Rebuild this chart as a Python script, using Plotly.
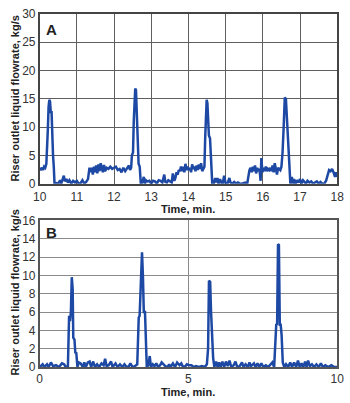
import plotly.graph_objects as go

# Panel A: time (min) and riser outlet liquid flowrate (kg/s)
time_a = [10.00, 10.03, 10.06, 10.09, 10.12, 10.15, 10.18, 10.20, 10.22, 10.24, 10.26, 10.28, 10.30, 10.32,
          10.34, 10.36, 10.38, 10.40, 10.45, 10.50, 10.55, 10.58, 10.62, 10.65, 10.68, 10.72, 10.76, 10.80,
          10.85, 10.90, 10.95, 11.00, 11.05, 11.10, 11.15, 11.20, 11.25, 11.30, 11.34, 11.37, 11.40, 11.43,
          11.46, 11.49, 11.52, 11.55, 11.58, 11.61, 11.64, 11.67, 11.70, 11.73, 11.76, 11.80, 11.85, 11.90,
          11.95, 12.00, 12.05, 12.10, 12.15, 12.20, 12.25, 12.30, 12.35, 12.40, 12.43, 12.46, 12.48, 12.51,
          12.53, 12.55, 12.57, 12.59, 12.61, 12.63, 12.66, 12.69, 12.72, 12.76, 12.80, 12.83, 12.86, 12.90,
          12.95, 13.00, 13.05, 13.10, 13.15, 13.20, 13.25, 13.30, 13.35, 13.38, 13.42, 13.46, 13.50, 13.55,
          13.58, 13.62, 13.65, 13.68, 13.71, 13.74, 13.77, 13.80, 13.83, 13.86, 13.89, 13.92, 13.95, 13.98,
          14.01, 14.04, 14.07, 14.10, 14.13, 14.16, 14.19, 14.22, 14.25, 14.28, 14.31, 14.34, 14.37, 14.40,
          14.43, 14.45, 14.47, 14.49, 14.51, 14.53, 14.55, 14.58, 14.61, 14.64, 14.68, 14.72, 14.75, 14.78,
          14.81, 14.85, 14.88, 14.92, 14.96, 15.00, 15.05, 15.10, 15.13, 15.18, 15.23, 15.28, 15.33, 15.38,
          15.43, 15.48, 15.53, 15.58, 15.61, 15.64, 15.67, 15.70, 15.73, 15.76, 15.79, 15.82, 15.85, 15.88,
          15.91, 15.94, 15.96, 15.99, 16.02, 16.05, 16.08, 16.11, 16.14, 16.17, 16.20, 16.23, 16.26, 16.29,
          16.32, 16.35, 16.38, 16.41, 16.44, 16.47, 16.50, 16.53, 16.56, 16.59, 16.62, 16.65, 16.68, 16.71,
          16.74, 16.78, 16.81, 16.84, 16.88, 16.92, 16.96, 17.00, 17.04, 17.08, 17.12, 17.16, 17.20, 17.25,
          17.30, 17.35, 17.40, 17.45, 17.50, 17.55, 17.60, 17.65, 17.70, 17.74, 17.78, 17.82, 17.86, 17.90,
          17.94, 17.97, 18.00]
flow_a = [2.6, 2.5, 2.8, 2.4, 3.0, 2.8, 3.5, 9.0, 9.5, 13.5, 14.8, 14.5, 12.5, 12.8,
          5.5, 5.0, 3.0, 0.0, 0.1, 0.0, 0.6, 0.0, 0.8, 1.4, 0.4, 0.8, 0.2, 0.6,
          0.0, 0.5, 0.2, 0.5, 0.0, 0.1, 0.6, 0.0, 0.3, 0.8, 2.8, 2.0, 2.8, 1.6,
          3.0, 2.0, 3.2, 1.8, 3.4, 2.2, 3.6, 2.4, 2.0, 3.3, 2.2, 2.8, 2.6, 3.0,
          2.6, 2.8, 3.0, 2.4, 2.6, 2.0, 2.8, 2.2, 2.6, 3.2, 2.4, 2.8, 5.0, 5.5,
          11.0, 13.5, 16.8, 16.5, 13.0, 10.0, 3.5, 3.0, 0.0, 0.2, 1.2, 0.0, 0.6, 0.4,
          0.5, 0.0, 0.5, 0.4, 0.0, 0.6, 0.5, 0.2, 1.6, 0.3, 0.2, 0.6, 0.4, 0.2,
          1.8, 0.5, 1.0, 2.0, 1.6, 2.4, 2.2, 3.0, 2.2, 3.0, 2.0, 3.5, 2.4, 3.0,
          2.4, 2.8, 2.0, 3.4, 2.6, 3.0, 2.2, 3.2, 2.4, 3.4, 2.6, 3.6, 2.2, 2.8,
          3.0, 8.0, 12.0, 14.8, 14.2, 10.5, 8.5, 8.0, 3.0, 0.0, 0.0, 1.0, 0.2, 1.0,
          0.0, 0.8, 0.2, 0.0, 1.4, 0.0, 0.0, 1.0, 0.2, 0.0, 0.3, 0.0, 0.2, 0.0,
          0.0, 0.1, 0.2, 0.0, 1.5, 2.4, 2.8, 2.0, 3.0, 2.2, 3.2, 1.8, 2.8, 2.2,
          2.6, 0.5, 4.5, 2.0, 2.8, 2.2, 3.0, 2.2, 2.6, 2.4, 2.8, 2.2, 3.2, 2.0,
          3.6, 2.4, 1.6, 2.8, 2.6, 2.4, 3.0, 5.5, 10.0, 15.2, 15.0, 10.5, 6.0, 3.0,
          0.0, 1.2, 0.0, 0.8, 0.0, 0.6, 0.2, 0.8, 0.0, 0.6, 0.3, 0.0, 0.5, 0.2,
          0.4, 0.0, 0.2, 0.4, 0.0, 0.3, 0.0, 0.0, 0.5, 1.6, 2.4, 2.2, 2.6, 2.0,
          1.2, 2.0, 1.2]

# Panel B
time_b = [0.00, 0.10, 0.15, 0.25, 0.30, 0.38, 0.45, 0.55, 0.65, 0.75, 0.82, 0.88, 0.95, 0.99,
          1.02, 1.05, 1.08, 1.11, 1.13, 1.17, 1.20, 1.23, 1.27, 1.32, 1.38, 1.45, 1.50, 1.55,
          1.62, 1.68, 1.73, 1.80, 1.86, 1.93, 2.00, 2.08, 2.15, 2.20, 2.25, 2.32, 2.40, 2.45,
          2.55, 2.62, 2.70, 2.78, 2.85, 2.92, 3.00, 3.05, 3.12, 3.20, 3.28, 3.33, 3.36, 3.40,
          3.44, 3.47, 3.50, 3.54, 3.57, 3.60, 3.65, 3.70, 3.74, 3.80, 3.86, 3.92, 3.98, 4.05,
          4.10, 4.15, 4.22, 4.30, 4.35, 4.40, 4.48, 4.55, 4.62, 4.70, 4.76, 4.82, 4.90, 4.95,
          5.02, 5.10, 5.18, 5.25, 5.35, 5.45, 5.55, 5.62, 5.66, 5.69, 5.73, 5.76, 5.79, 5.83,
          5.87, 5.93, 5.98, 6.03, 6.08, 6.14, 6.20, 6.26, 6.32, 6.38, 6.44, 6.52, 6.58, 6.64,
          6.72, 6.80, 6.85, 6.92, 7.00, 7.05, 7.10, 7.20, 7.25, 7.32, 7.38, 7.45, 7.52, 7.60,
          7.68, 7.75, 7.82, 7.88, 7.92, 7.95, 7.98, 8.01, 8.04, 8.07, 8.10, 8.13, 8.17, 8.22,
          8.28, 8.35, 8.42, 8.48, 8.55, 8.62, 8.68, 8.74, 8.80, 8.86, 8.92, 8.97, 9.02, 9.08,
          9.15, 9.22, 9.30, 9.38, 9.45, 9.52, 9.60, 9.70, 9.80, 9.90, 10.00]
flow_b = [0.0, 0.3, 0.0, 0.3, 0.0, 0.5, 0.1, 0.2, 0.0, 0.4, 0.3, 0.0, 0.1, 5.6,
          5.0, 6.0, 9.8, 8.5, 3.2, 3.0, 1.5, 1.6, 0.0, 0.5, 0.4, 0.0, 0.5, 0.0,
          0.5, 0.6, 0.0, 0.6, 0.0, 0.3, 0.0, 0.4, 0.2, 0.9, 0.1, 0.2, 0.6, 0.0,
          0.4, 0.0, 0.3, 0.0, 0.3, 0.0, 0.1, 0.4, 0.0, 0.1, 0.3, 5.4, 5.6, 10.0,
          12.5, 10.0, 6.0, 6.0, 2.0, 0.0, 0.2, 1.2, 0.0, 0.3, 0.1, 0.4, 0.0, 0.2,
          0.5, 0.3, 0.1, 0.0, 0.3, 0.0, 0.4, 0.0, 0.5, 0.2, 0.4, 0.0, 0.1, 0.3,
          0.2, 0.2, 0.0, 0.1, 0.0, 0.1, 0.0, 0.3, 2.0, 9.4, 9.3, 6.0, 3.5, 1.0,
          0.0, 0.6, 0.0, 0.5, 0.0, 0.6, 0.0, 0.6, 0.1, 0.7, 0.0, 0.2, 0.6, 0.0,
          0.1, 0.5, 0.0, 0.3, 0.0, 0.5, 0.1, 0.4, 0.0, 0.4, 0.0, 0.4, 0.0, 0.2,
          0.0, 0.3, 0.5, 0.0, 2.0, 4.6, 4.7, 13.4, 13.3, 4.6, 4.6, 3.5, 0.5, 0.0,
          0.3, 0.0, 0.5, 0.0, 0.5, 0.0, 0.7, 0.0, 0.4, 0.0, 0.6, 0.0, 0.7, 0.1,
          0.3, 0.0, 0.3, 0.0, 0.4, 0.0, 0.2, 0.0, 0.2, 0.0, 0.0]

ticks_a_x = [10, 11, 12, 13, 14, 15, 16, 17, 18]
ticks_a_y = [0, 5, 10, 15, 20, 25, 30]
ticks_b_x = [0, 5, 10]
ticks_b_y = [0, 2, 4, 6, 8, 10, 12, 14, 16]

W, H = 350, 403
LINE = "#1d48a4"
FONT = "Liberation Sans, Arial, sans-serif"

def px(x):
    return x / W

def py(y):
    return 1 - y / H

fig = go.Figure()
fig.add_trace(go.Scatter(x=time_a, y=flow_a, mode="lines", xaxis="x", yaxis="y",
                         line=dict(color=LINE, width=2.5), showlegend=False))
fig.add_trace(go.Scatter(x=time_b, y=flow_b, mode="lines", xaxis="x2", yaxis="y2",
                         line=dict(color=LINE, width=2.5), showlegend=False))

dom_x = [px(34), px(344)]
axis_common = dict(showline=True, mirror=True, ticks="", zeroline=False,
                   ticklabeloverflow="allow",
                   tickfont=dict(family=FONT, size=12, color="#333333"), fixedrange=True)

fig.update_layout(
    width=W, height=H, margin=dict(l=0, r=0, t=0, b=0),
    paper_bgcolor="white", plot_bgcolor="white",
    xaxis=dict(domain=dom_x, anchor="y", range=[10, 18], tickvals=ticks_a_x,
               showgrid=True, gridcolor="#5e5e5e", gridwidth=1, linecolor="#444444", linewidth=1.5,
               ticklabelstandoff=1, **axis_common),
    yaxis=dict(domain=[py(183), py(7)], anchor="x", range=[0, 30], tickvals=ticks_a_y,
               showgrid=True, gridcolor="#5e5e5e", gridwidth=1, linecolor="#444444", linewidth=1.5,
               **axis_common),
    xaxis2=dict(domain=dom_x, anchor="y2", range=[0, 10], tickvals=ticks_b_x,
                showgrid=True, gridcolor="#8a8a8a", gridwidth=1, linecolor="#555555", linewidth=1.5,
                ticklabelstandoff=0, **axis_common),
    yaxis2=dict(domain=[py(373), py(221)], anchor="x2", range=[0, 16], tickvals=ticks_b_y,
                showgrid=True, gridcolor="#8a8a8a", gridwidth=1, linecolor="#555555", linewidth=1.5,
                **axis_common),
)

ytitle = "Riser outlet liquid flowrate, kg/s"
ann = [
    dict(text="<b>A</b>", x=px(46), y=py(23), font=dict(size=15)),
    dict(text="<b>B</b>", x=px(46), y=py(234), font=dict(size=15)),
    dict(text="<b>Time, min.</b>", x=px(189), y=py(209), font=dict(size=11)),
    dict(text="<b>Time, min.</b>", x=px(189), y=0, yanchor="bottom", yshift=-3,
         borderpad=0, font=dict(size=11)),
    dict(text="<b>" + ytitle + "</b>", x=px(8), y=py(95), textangle=-90, font=dict(size=11)),
    dict(text="<b>" + ytitle + "</b>", x=px(8), y=py(296), textangle=-90, font=dict(size=11)),
]
for a in ann:
    a.setdefault("yanchor", "middle")
    a.update(xref="paper", yref="paper", showarrow=False, xanchor="center")
    a["font"].update(family=FONT, color="#222222")
fig.update_layout(annotations=ann)

fig.write_html("out.html")
